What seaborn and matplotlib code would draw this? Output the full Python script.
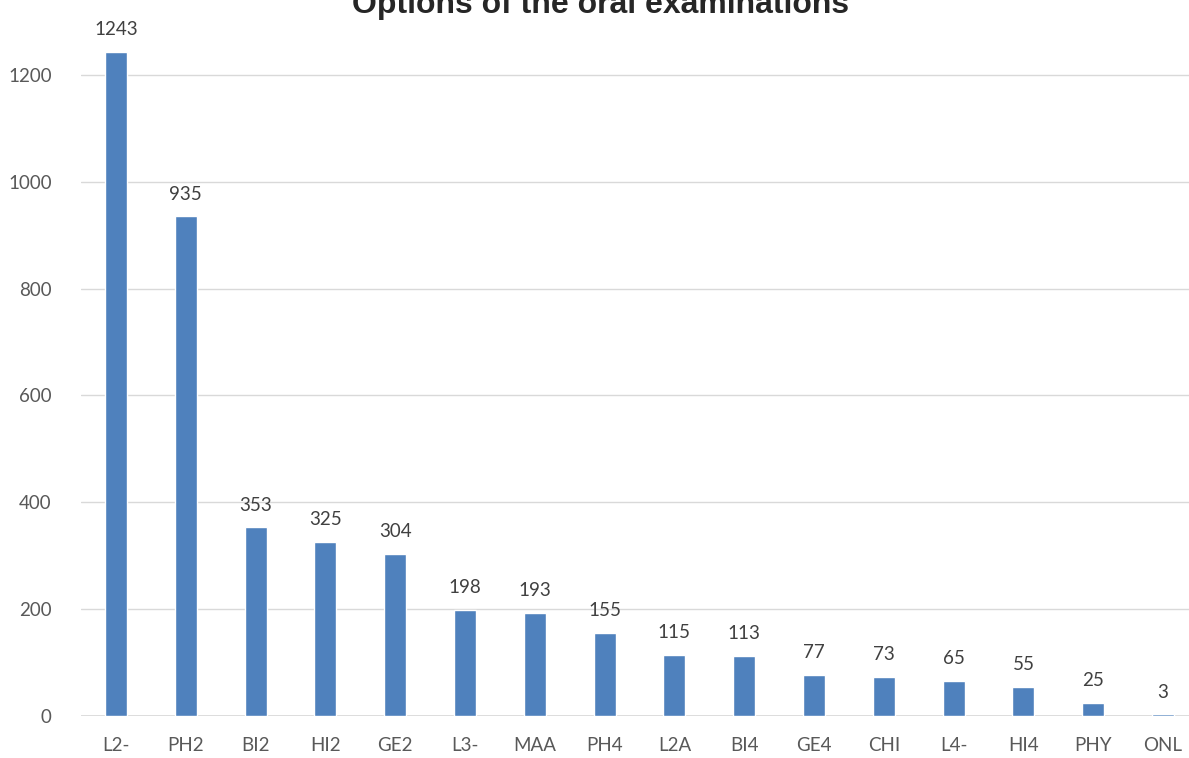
import numpy as np
import pandas as pd
import matplotlib.pyplot as plt
import seaborn as sns

# Options of the oral examinations - counts per option
options = ['L2-', 'PH2', 'BI2', 'HI2', 'GE2', 'L3-', 'MAA', 'PH4', 'L2A', 'BI4',
           'GE4', 'CHI', 'L4-', 'HI4', 'PHY', 'ONL']
counts = [1243, 935, 353, 325, 304, 198, 193, 155, 115, 113, 77, 73, 65, 55, 25, 3]

df = pd.DataFrame({'Option': options, 'Count': counts})

sns.set_style('white')
plt.rcParams['font.family'] = ['Lato', 'DejaVu Sans']

fig = plt.figure(figsize=(11.89, 7.58), dpi=100)
# axes runs a bit past the top of the figure, like the cropped original
ax = fig.add_axes([81 / 1189, 42 / 758, 1117 / 1189, 748 / 758])

sns.barplot(data=df, x='Option', y='Count', color='#4F81BD', saturation=1,
            width=0.315, ax=ax)

ax.set_ylim(0, 1400)
ax.set_xlim(-0.5, len(options) - 0.5)
ax.set_yticks(range(0, 1401, 200))
ax.yaxis.grid(True, color='#D9D9D9', linewidth=1)
ax.set_axisbelow(True)
for s in ['top', 'right', 'left', 'bottom']:
    ax.spines[s].set_visible(False)
ax.axhline(0, color='#D9D9D9', linewidth=1.2, zorder=0)
ax.tick_params(axis='both', length=0, labelsize=13.5, colors='#595959')
ax.tick_params(axis='x', pad=15)
ax.tick_params(axis='y', pad=21)
ax.set_xlabel('')
ax.set_ylabel('')

ax.bar_label(ax.containers[0], labels=[str(c) for c in counts], padding=10,
             fontsize=13.5, color='#404040')

fig.text(0.505, 1 - 13 / 758, 'Options of the oral examinations', ha='center',
         va='baseline', fontsize=23, fontweight='bold', family='Liberation Sans')

fig.savefig('out.png', dpi=100)
